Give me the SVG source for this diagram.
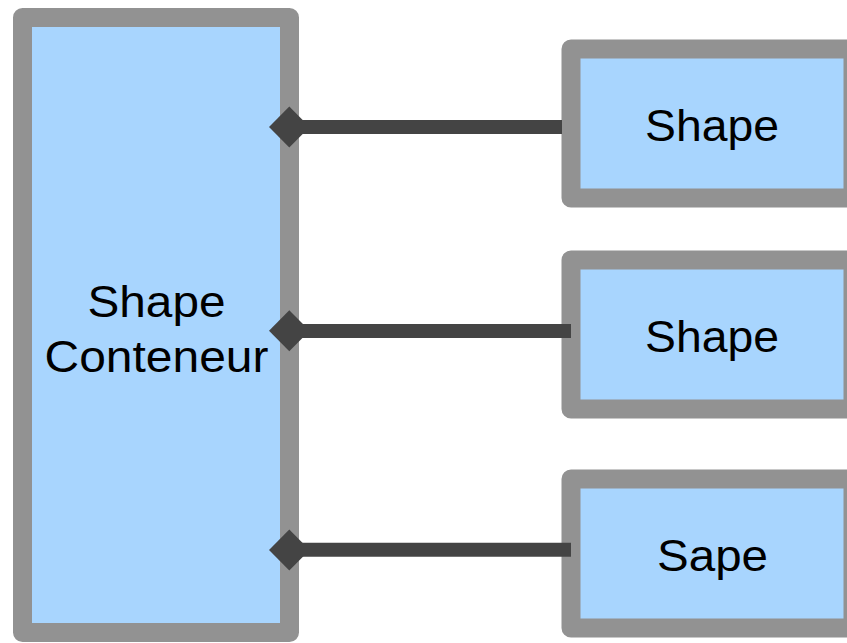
<svg xmlns="http://www.w3.org/2000/svg" width="847" height="643" viewBox="0 0 847 643">
<style>
.box{fill:#a8d5fe;stroke:#929292;stroke-width:19;stroke-linejoin:round}
.lbl{font-family:"Liberation Sans",Arial,sans-serif;font-size:45px;fill:#000;text-anchor:middle}
.conn{stroke:#444444;stroke-width:14;fill:none}
.dia{fill:#444444}
</style>
<rect width="847" height="643" fill="#ffffff"/>
<g id="container">
<rect class="box" x="22.5" y="17.5" width="267" height="615"/>
<text class="lbl" x="156.5" y="316.7" textLength="138" lengthAdjust="spacingAndGlyphs">Shape</text>
<text class="lbl" x="156.5" y="371.7" textLength="224" lengthAdjust="spacingAndGlyphs">Conteneur</text>
</g>
<g id="shape1">
<rect class="box" x="571" y="49" width="282" height="149"/>
<text class="lbl" x="712" y="140.7" textLength="134" lengthAdjust="spacingAndGlyphs">Shape</text>
</g>
<g id="shape2">
<rect class="box" x="571" y="260" width="282" height="149"/>
<text class="lbl" x="712" y="351.7" textLength="134" lengthAdjust="spacingAndGlyphs">Shape</text>
</g>
<g id="shape3">
<rect class="box" x="571" y="479" width="282" height="149"/>
<text class="lbl" x="712.5" y="570.7" textLength="111" lengthAdjust="spacingAndGlyphs">Sape</text>
</g>
<g id="connectors">
<line class="conn" x1="295" y1="127" x2="562" y2="127"/>
<polygon class="dia" points="269,127 289.3,106.5 309.6,127 289.3,147.5"/>
<line class="conn" x1="295" y1="331" x2="571" y2="331"/>
<polygon class="dia" points="269,330.7 289.3,310.2 309.6,330.7 289.3,351.2"/>
<line class="conn" x1="295" y1="549.7" x2="571" y2="549.7"/>
<polygon class="dia" points="269,550 289.3,529.5 309.6,550 289.3,570.5"/>
</g>
</svg>
